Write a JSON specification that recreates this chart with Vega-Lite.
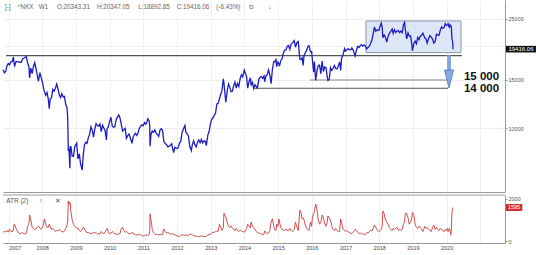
{
"$schema":"https://vega.github.io/schema/vega-lite/v6.json",
"padding":0,"spacing":2,"background":"white",
"config":{"view":{"stroke":null},"font":"Liberation Sans","axis":{"labelOverlap":false},"axisX":{"labelOverlap":false},"axisBottom":{"labelOverlap":false}},
"datasets":{
"w":[
{"d":"2006-11-03","c":16350,"a":420},{"d":"2006-11-17","c":15925,"a":450},{"d":"2006-12-01","c":16100,"a":430},{"d":"2006-12-15","c":16900,"a":500},{"d":"2006-12-29","c":17225,"a":420},
{"d":"2007-01-12","c":17040,"a":560},{"d":"2007-01-26","c":17460,"a":480},{"d":"2007-02-09","c":17500,"a":430},{"d":"2007-02-23","c":18190,"a":520},{"d":"2007-03-02","c":17220,"a":800},{"d":"2007-03-09","c":16900,"a":780},{"d":"2007-03-23","c":17480,"a":600},{"d":"2007-04-06","c":17490,"a":480},{"d":"2007-04-20","c":17450,"a":380},{"d":"2007-05-04","c":17400,"a":340},{"d":"2007-05-18","c":17400,"a":380},{"d":"2007-06-01","c":17880,"a":400},{"d":"2007-06-15","c":18000,"a":350},{"d":"2007-06-29","c":18140,"a":330},{"d":"2007-07-13","c":18240,"a":380},{"d":"2007-07-27","c":17280,"a":700},{"d":"2007-08-10","c":16760,"a":800},{"d":"2007-08-17","c":15270,"a":1240},{"d":"2007-08-31","c":16570,"a":1000},{"d":"2007-09-14","c":15820,"a":650},{"d":"2007-09-28","c":16790,"a":600},{"d":"2007-10-12","c":17330,"a":520},{"d":"2007-10-26","c":16500,"a":600},{"d":"2007-11-09","c":15580,"a":650},{"d":"2007-11-21","c":14840,"a":700},{"d":"2007-12-07","c":15950,"a":620},{"d":"2007-12-21","c":15300,"a":560},
{"d":"2008-01-04","c":14690,"a":650},{"d":"2008-01-18","c":13860,"a":900},{"d":"2008-01-25","c":13630,"a":1050},{"d":"2008-02-08","c":13200,"a":800},{"d":"2008-02-22","c":13500,"a":650},{"d":"2008-03-07","c":12780,"a":650},{"d":"2008-03-17","c":11790,"a":800},{"d":"2008-03-28","c":12820,"a":700},{"d":"2008-04-11","c":12930,"a":550},{"d":"2008-04-25","c":13860,"a":600},{"d":"2008-05-09","c":13650,"a":520},{"d":"2008-05-23","c":13990,"a":450},{"d":"2008-06-06","c":14490,"a":500},{"d":"2008-06-20","c":13940,"a":480},{"d":"2008-07-04","c":13240,"a":550},{"d":"2008-07-18","c":12950,"a":500},{"d":"2008-08-01","c":13380,"a":450},{"d":"2008-08-15","c":13020,"a":430},{"d":"2008-08-29","c":13070,"a":480},{"d":"2008-09-12","c":12210,"a":600},{"d":"2008-09-26","c":11890,"a":750},{"d":"2008-10-03","c":11000,"a":900},{"d":"2008-10-10","c":8276,"a":1900},{"d":"2008-10-17","c":8460,"a":1750},{"d":"2008-10-27","c":7162,"a":1850},{"d":"2008-10-31","c":8577,"a":1800},{"d":"2008-11-07","c":8580,"a":1400},{"d":"2008-11-21","c":7910,"a":1000},{"d":"2008-12-05","c":7920,"a":800},{"d":"2008-12-19","c":8590,"a":700},
{"d":"2009-01-09","c":8840,"a":600},{"d":"2009-01-23","c":7745,"a":620},{"d":"2009-02-06","c":8080,"a":500},{"d":"2009-02-20","c":7416,"a":450},{"d":"2009-03-10","c":7055,"a":550},{"d":"2009-03-20","c":7945,"a":650},{"d":"2009-04-03","c":8720,"a":600},{"d":"2009-04-17","c":8910,"a":450},{"d":"2009-05-01","c":8830,"a":400},{"d":"2009-05-15","c":9260,"a":420},{"d":"2009-05-29","c":9520,"a":350},{"d":"2009-06-12","c":10135,"a":380},{"d":"2009-06-26","c":9880,"a":350},{"d":"2009-07-10","c":9290,"a":420},{"d":"2009-07-24","c":9940,"a":400},{"d":"2009-08-07","c":10410,"a":380},{"d":"2009-08-21","c":10240,"a":330},{"d":"2009-09-04","c":10190,"a":360},{"d":"2009-09-18","c":10370,"a":320},{"d":"2009-10-02","c":9730,"a":450},{"d":"2009-10-16","c":10260,"a":380},{"d":"2009-10-30","c":10030,"a":350},{"d":"2009-11-13","c":9800,"a":400},{"d":"2009-11-27","c":9080,"a":550},{"d":"2009-12-04","c":9980,"a":600},{"d":"2009-12-18","c":10140,"a":420},{"d":"2009-12-30","c":10550,"a":350},
{"d":"2010-01-15","c":10980,"a":380},{"d":"2010-01-29","c":10200,"a":450},{"d":"2010-02-12","c":10090,"a":400},{"d":"2010-02-26","c":10130,"a":330},{"d":"2010-03-12","c":10750,"a":350},{"d":"2010-03-26","c":10990,"a":300},{"d":"2010-04-09","c":11200,"a":330},{"d":"2010-04-23","c":10910,"a":350},{"d":"2010-05-07","c":10360,"a":600},{"d":"2010-05-21","c":9780,"a":650},{"d":"2010-06-04","c":9900,"a":500},{"d":"2010-06-18","c":10000,"a":420},{"d":"2010-07-02","c":9200,"a":450},{"d":"2010-07-16","c":9410,"a":400},{"d":"2010-07-30","c":9540,"a":330},{"d":"2010-08-13","c":9250,"a":350},{"d":"2010-08-31","c":8824,"a":400},{"d":"2010-09-10","c":9240,"a":380},{"d":"2010-09-24","c":9470,"a":330},{"d":"2010-10-08","c":9590,"a":300},{"d":"2010-10-22","c":9430,"a":280},{"d":"2010-11-05","c":9625,"a":300},{"d":"2010-11-19","c":10020,"a":320},{"d":"2010-12-03","c":10180,"a":300},{"d":"2010-12-17","c":10300,"a":250},{"d":"2010-12-30","c":10230,"a":230},
{"d":"2011-01-14","c":10500,"a":250},{"d":"2011-01-28","c":10360,"a":280},{"d":"2011-02-11","c":10600,"a":280},{"d":"2011-02-18","c":10840,"a":260},{"d":"2011-03-04","c":10690,"a":300},{"d":"2011-03-11","c":10250,"a":450},{"d":"2011-03-15","c":8605,"a":1290},{"d":"2011-03-25","c":9540,"a":1000},{"d":"2011-04-08","c":9770,"a":550},{"d":"2011-04-22","c":9680,"a":380},{"d":"2011-05-06","c":9860,"a":330},{"d":"2011-05-20","c":9600,"a":320},{"d":"2011-06-03","c":9490,"a":300},{"d":"2011-06-17","c":9350,"a":280},{"d":"2011-07-01","c":9870,"a":330},{"d":"2011-07-15","c":9970,"a":300},{"d":"2011-07-29","c":9830,"a":300},{"d":"2011-08-05","c":9300,"a":500},{"d":"2011-08-12","c":8960,"a":570},{"d":"2011-08-26","c":8800,"a":450},{"d":"2011-09-09","c":8740,"a":380},{"d":"2011-09-23","c":8560,"a":400},{"d":"2011-10-07","c":8600,"a":380},{"d":"2011-10-21","c":8680,"a":320},{"d":"2011-11-04","c":8800,"a":350},{"d":"2011-11-18","c":8370,"a":340},{"d":"2011-11-25","c":8160,"a":300},{"d":"2011-12-09","c":8540,"a":300},{"d":"2011-12-30","c":8455,"a":250},
{"d":"2012-01-13","c":8500,"a":220},{"d":"2012-01-27","c":8840,"a":230},{"d":"2012-02-10","c":8950,"a":240},{"d":"2012-02-24","c":9650,"a":300},{"d":"2012-03-09","c":9930,"a":280},{"d":"2012-03-27","c":10255,"a":260},{"d":"2012-04-06","c":9690,"a":300},{"d":"2012-04-20","c":9560,"a":270},{"d":"2012-05-04","c":9380,"a":260},{"d":"2012-05-18","c":8610,"a":330},{"d":"2012-06-04","c":8295,"a":320},{"d":"2012-06-15","c":8720,"a":300},{"d":"2012-06-29","c":9007,"a":260},{"d":"2012-07-13","c":8725,"a":240},{"d":"2012-07-27","c":8570,"a":220},{"d":"2012-08-10","c":8890,"a":230},{"d":"2012-08-24","c":9070,"a":200},{"d":"2012-09-07","c":8870,"a":220},{"d":"2012-09-21","c":9110,"a":250},{"d":"2012-10-05","c":8860,"a":230},{"d":"2012-10-19","c":9000,"a":200},{"d":"2012-11-02","c":8990,"a":210},{"d":"2012-11-14","c":8660,"a":220},{"d":"2012-11-30","c":9450,"a":300},{"d":"2012-12-14","c":9740,"a":300},{"d":"2012-12-28","c":10395,"a":330},
{"d":"2013-01-11","c":10800,"a":380},{"d":"2013-01-25","c":10930,"a":400},{"d":"2013-02-08","c":11150,"a":420},{"d":"2013-02-22","c":11390,"a":450},{"d":"2013-03-08","c":12280,"a":480},{"d":"2013-03-22","c":12340,"a":450},{"d":"2013-04-05","c":12830,"a":790},{"d":"2013-04-19","c":13320,"a":650},{"d":"2013-05-02","c":13690,"a":500},{"d":"2013-05-17","c":15140,"a":650},{"d":"2013-05-24","c":14610,"a":1330},{"d":"2013-05-31","c":13770,"a":1250},{"d":"2013-06-13","c":12445,"a":1150},{"d":"2013-06-28","c":13680,"a":900},{"d":"2013-07-12","c":14500,"a":700},{"d":"2013-07-26","c":14130,"a":650},{"d":"2013-08-09","c":13600,"a":720},{"d":"2013-08-23","c":13660,"a":600},{"d":"2013-09-06","c":14310,"a":550},{"d":"2013-09-20","c":14740,"a":500},{"d":"2013-10-04","c":14020,"a":600},{"d":"2013-10-18","c":14560,"a":500},{"d":"2013-11-01","c":14200,"a":450},{"d":"2013-11-15","c":15165,"a":520},{"d":"2013-11-29","c":15660,"a":480},{"d":"2013-12-13","c":15400,"a":450},{"d":"2013-12-30","c":16290,"a":420},
{"d":"2014-01-10","c":15910,"a":480},{"d":"2014-01-24","c":15390,"a":600},{"d":"2014-02-05","c":14010,"a":800},{"d":"2014-02-21","c":14870,"a":700},{"d":"2014-03-07","c":15270,"a":620},{"d":"2014-03-14","c":14330,"a":900},{"d":"2014-03-28","c":14700,"a":700},{"d":"2014-04-11","c":13960,"a":650},{"d":"2014-04-25","c":14430,"a":550},{"d":"2014-05-09","c":14200,"a":450},{"d":"2014-05-21","c":14040,"a":400},{"d":"2014-06-06","c":15080,"a":380},{"d":"2014-06-20","c":15350,"a":350},{"d":"2014-07-04","c":15440,"a":330},{"d":"2014-07-18","c":15210,"a":300},{"d":"2014-08-01","c":15520,"a":330},{"d":"2014-08-08","c":14780,"a":480},{"d":"2014-08-22","c":15540,"a":400},{"d":"2014-09-05","c":15670,"a":350},{"d":"2014-09-19","c":16320,"a":380},{"d":"2014-10-03","c":15700,"a":500},{"d":"2014-10-17","c":14530,"a":900},{"d":"2014-10-31","c":16410,"a":1060},{"d":"2014-11-14","c":17490,"a":700},{"d":"2014-11-28","c":17460,"a":550},{"d":"2014-12-08","c":17940,"a":500},{"d":"2014-12-16","c":16760,"a":800},{"d":"2014-12-30","c":17450,"a":700},
{"d":"2015-01-09","c":17200,"a":1050},{"d":"2015-01-16","c":16860,"a":900},{"d":"2015-01-30","c":17670,"a":650},{"d":"2015-02-13","c":17910,"a":550},{"d":"2015-02-27","c":18800,"a":500},{"d":"2015-03-13","c":19250,"a":520},{"d":"2015-03-27","c":19290,"a":560},{"d":"2015-04-10","c":19900,"a":520},{"d":"2015-04-24","c":20020,"a":500},{"d":"2015-05-08","c":19380,"a":600},{"d":"2015-05-22","c":20260,"a":500},{"d":"2015-06-05","c":20460,"a":450},{"d":"2015-06-24","c":20870,"a":550},{"d":"2015-07-08","c":19740,"a":900},{"d":"2015-07-24","c":20540,"a":650},{"d":"2015-08-07","c":20720,"a":500},{"d":"2015-08-25","c":17810,"a":1480},{"d":"2015-09-04","c":17790,"a":1400},{"d":"2015-09-18","c":18070,"a":1050},{"d":"2015-09-29","c":16930,"a":1100},{"d":"2015-10-09","c":18440,"a":1000},{"d":"2015-10-23","c":18830,"a":750},{"d":"2015-11-06","c":19260,"a":600},{"d":"2015-11-20","c":19880,"a":550},{"d":"2015-12-01","c":20010,"a":500},{"d":"2015-12-18","c":18990,"a":900},{"d":"2015-12-30","c":19030,"a":700},
{"d":"2016-01-08","c":17700,"a":1150},{"d":"2016-01-21","c":16020,"a":1300},{"d":"2016-01-29","c":17520,"a":1400},{"d":"2016-02-12","c":14950,"a":1760},{"d":"2016-02-26","c":16190,"a":1500},{"d":"2016-03-11","c":16940,"a":1000},{"d":"2016-03-25","c":17000,"a":800},{"d":"2016-04-08","c":15820,"a":900},{"d":"2016-04-22","c":17570,"a":1240},{"d":"2016-05-06","c":16110,"a":1100},{"d":"2016-05-20","c":16740,"a":800},{"d":"2016-06-03","c":16640,"a":700},{"d":"2016-06-16","c":15430,"a":900},{"d":"2016-06-24","c":14950,"a":1190},{"d":"2016-07-08","c":15110,"a":1100},{"d":"2016-07-22","c":16630,"a":1000},{"d":"2016-08-05","c":16250,"a":700},{"d":"2016-08-19","c":16550,"a":550},{"d":"2016-09-02","c":16930,"a":500},{"d":"2016-09-16","c":16520,"a":600},{"d":"2016-09-30","c":16450,"a":500},{"d":"2016-10-14","c":16850,"a":450},{"d":"2016-10-28","c":17440,"a":450},{"d":"2016-11-09","c":16250,"a":1050},{"d":"2016-11-18","c":17970,"a":900},{"d":"2016-12-02","c":18430,"a":600},{"d":"2016-12-21","c":19490,"a":500},{"d":"2016-12-30","c":19110,"a":450},
{"d":"2017-01-13","c":19290,"a":500},{"d":"2017-01-27","c":19470,"a":450},{"d":"2017-02-10","c":19380,"a":400},{"d":"2017-02-24","c":19280,"a":380},{"d":"2017-03-10","c":19600,"a":350},{"d":"2017-03-24","c":19260,"a":420},{"d":"2017-04-07","c":18660,"a":500},{"d":"2017-04-14","c":18340,"a":550},{"d":"2017-04-28","c":19200,"a":500},{"d":"2017-05-12","c":19880,"a":420},{"d":"2017-05-26","c":19690,"a":350},{"d":"2017-06-09","c":20010,"a":380},{"d":"2017-06-23","c":20130,"a":330},{"d":"2017-07-07","c":19930,"a":350},{"d":"2017-07-21","c":20100,"a":300},{"d":"2017-08-04","c":19950,"a":300},{"d":"2017-08-18","c":19470,"a":400},{"d":"2017-09-01","c":19690,"a":380},{"d":"2017-09-15","c":19910,"a":450},{"d":"2017-09-29","c":20360,"a":500},{"d":"2017-10-13","c":20950,"a":480},{"d":"2017-10-27","c":22010,"a":600},{"d":"2017-11-09","c":23380,"a":760},{"d":"2017-11-24","c":22550,"a":650},{"d":"2017-12-08","c":22810,"a":550},{"d":"2017-12-29","c":22760,"a":450},
{"d":"2018-01-12","c":23650,"a":500},{"d":"2018-01-23","c":24124,"a":550},{"d":"2018-02-02","c":23270,"a":700},{"d":"2018-02-09","c":21380,"a":1430},{"d":"2018-02-23","c":21890,"a":1300},{"d":"2018-03-09","c":21470,"a":1000},{"d":"2018-03-23","c":20617,"a":900},{"d":"2018-04-06","c":21570,"a":800},{"d":"2018-04-20","c":22160,"a":650},{"d":"2018-05-04","c":22470,"a":550},{"d":"2018-05-21","c":23000,"a":500},{"d":"2018-06-01","c":22170,"a":600},{"d":"2018-06-15","c":22850,"a":550},{"d":"2018-06-29","c":22300,"a":600},{"d":"2018-07-13","c":22600,"a":650},{"d":"2018-07-27","c":22710,"a":500},{"d":"2018-08-10","c":22300,"a":550},{"d":"2018-08-24","c":22600,"a":500},{"d":"2018-09-07","c":22300,"a":550},{"d":"2018-09-21","c":23870,"a":800},{"d":"2018-10-02","c":24270,"a":900},{"d":"2018-10-12","c":22690,"a":1330},{"d":"2018-10-26","c":21180,"a":1300},{"d":"2018-11-09","c":22250,"a":1100},{"d":"2018-11-22","c":21650,"a":800},{"d":"2018-12-07","c":21680,"a":900},{"d":"2018-12-21","c":20170,"a":1100},{"d":"2018-12-26","c":19155,"a":1360},
{"d":"2019-01-11","c":20360,"a":1250},{"d":"2019-01-25","c":20770,"a":800},{"d":"2019-02-08","c":20330,"a":650},{"d":"2019-02-22","c":21425,"a":600},{"d":"2019-03-08","c":21030,"a":700},{"d":"2019-03-22","c":21630,"a":650},{"d":"2019-04-05","c":21800,"a":550},{"d":"2019-04-19","c":22200,"a":450},{"d":"2019-05-10","c":21340,"a":700},{"d":"2019-05-24","c":21120,"a":600},{"d":"2019-06-04","c":20410,"a":650},{"d":"2019-06-21","c":21260,"a":550},{"d":"2019-07-05","c":21750,"a":500},{"d":"2019-07-19","c":21470,"a":450},{"d":"2019-08-02","c":21090,"a":650},{"d":"2019-08-16","c":20420,"a":750},{"d":"2019-08-30","c":20700,"a":550},{"d":"2019-09-13","c":21990,"a":650},{"d":"2019-09-27","c":21880,"a":550},{"d":"2019-10-11","c":21800,"a":500},{"d":"2019-10-25","c":22800,"a":600},{"d":"2019-11-08","c":23390,"a":550},{"d":"2019-11-22","c":23110,"a":500},{"d":"2019-12-06","c":23350,"a":450},{"d":"2019-12-17","c":24066,"a":550},{"d":"2019-12-30","c":23660,"a":500},
{"d":"2020-01-10","c":23850,"a":600},{"d":"2020-01-17","c":24040,"a":450},{"d":"2020-01-31","c":23200,"a":600},{"d":"2020-02-07","c":23830,"a":500},{"d":"2020-02-14","c":23690,"a":300},{"d":"2020-02-21","c":23390,"a":450},{"d":"2020-02-28","c":21140,"a":1350},{"d":"2020-03-06","c":20750,"a":1500},{"d":"2020-03-11","c":19416.06,"a":1595}
],
"levels":[
{"name":"top","v":18400,"d1":"2006-12-04","d2":"2020-06-16"},
{"name":"15000","v":15000,"d1":"2015-12-12","d2":"2020-01-16"},
{"name":"14000","v":14000,"d1":"2014-04-04","d2":"2020-01-16"}
],
"zone":[{"d1":"2017-08-10","d2":"2020-06-05","lo":18860,"hi":24585}],
"targets":[{"t":"15 000","v":15420},{"t":"14 000","v":13950}],
"last":[{"c":19416.06,"a":1595,"lc":"19416.06","la":"1595"}],
"one":[{}]
},
"vconcat":[
{
"width":502,"height":192,
"layer":[
{"data":{"name":"zone"},"mark":{"type":"rect","fill":"#dce6f6","stroke":"#8a96a8","strokeWidth":1},
 "encoding":{"x":{"field":"d1","type":"temporal"},"x2":{"field":"d2"},"y":{"field":"lo","type":"quantitative"},"y2":{"field":"hi"}}},
{"data":{"name":"levels"},"mark":{"type":"rule","strokeWidth":1.1},
 "encoding":{"x":{"field":"d1","type":"temporal"},"x2":{"field":"d2"},"y":{"field":"v","type":"quantitative"},
 "color":{"field":"name","type":"nominal","scale":{"domain":["top","15000","14000"],"range":["#555555","#888888","#555555"]},"legend":null}}},
{"data":{"name":"w"},"mark":{"type":"line","color":"#1c1cc4","strokeWidth":1.3},
 "encoding":{
  "x":{"field":"d","type":"temporal","scale":{"domain":[{"year":2006,"month":11,"date":2},{"year":2021,"month":9,"date":25}]},
   "axis":{"title":null,"labels":false,"ticks":false,"domain":true,"domainColor":"#999999","grid":true,"gridColor":"#f0f0f0","tickCount":{"interval":"year","step":1}}},
  "y":{"field":"c","type":"quantitative","scale":{"type":"log","domain":[5870,29310],"nice":false,"zero":false},
   "axis":{"orient":"right","title":null,"values":[10000,15000,20000,25000],"format":"d","labelExpr":"datum.value == 20000 ? '' : datum.label","grid":true,"gridColor":"#eeeeee","domainColor":"#999999","tickColor":"#999999","tickSize":2,"labelPadding":1,"labelFontSize":5.5,"labelColor":"#555555"}}}},
{"data":{"name":"one"},"mark":{"type":"rule","color":"#86a8e0","strokeWidth":4},
 "encoding":{"x":{"datum":{"year":2020,"month":1,"date":27},"type":"temporal"},"y":{"datum":18450,"type":"quantitative"},"y2":{"datum":15500}}},
{"data":{"name":"one"},"mark":{"type":"point","shape":"M-0.5,-1L0.5,-1L0,1Z","size":324,"filled":true,"fill":"#86a8e0","stroke":"#4f74b8","strokeWidth":0.8,"opacity":1},
 "encoding":{"x":{"datum":{"year":2020,"month":1,"date":27},"type":"temporal"},"y":{"datum":15125,"type":"quantitative"}}},
{"data":{"name":"targets"},"mark":{"type":"text","align":"left","baseline":"middle","fontSize":11.5,"fontWeight":"bold","color":"#111111"},
 "encoding":{"x":{"datum":{"year":2020,"month":7,"date":7},"type":"temporal"},"y":{"field":"v","type":"quantitative"},"text":{"field":"t"}}},
{"data":{"name":"one"},"mark":{"type":"text","align":"left","baseline":"middle","fontSize":6.3,"color":"#666666"},
 "encoding":{"x":{"datum":{"year":2006,"month":11,"date":24},"type":"temporal"},"y":{"datum":27640,"type":"quantitative"},
 "text":{"value":"[-]\u00a0\u00a0\u00a0\u00a0^NKX\u00a0\u00a0\u00a0W1\u00a0\u00a0\u00a0\u00a0\u00a0O:20343.31\u00a0\u00a0\u00a0\u00a0H:20347.05\u00a0\u00a0\u00a0\u00a0\u00a0L:18892.85\u00a0\u00a0\u00a0\u00a0C:19416.06\u00a0\u00a0\u00a0\u00a0(-6.43%)\u00a0\u00a0\u00a0\u00a0\u00a0\u29c9\u00a0\u00a0\u00a0\u00a0\u00a0\u00a0\u00a0\u00a0\u2193"}}},
{"data":{"name":"last"},"mark":{"type":"point","shape":"M-1,-0.22L1,-0.22L1,0.22L-1,0.22Z","size":900,"filled":true,"fill":"#111111","opacity":1},
 "encoding":{"x":{"datum":{"year":2022,"month":3,"date":17},"type":"temporal"},"y":{"field":"c","type":"quantitative"}}},
{"data":{"name":"last"},"mark":{"type":"text","align":"center","baseline":"middle","fontSize":6,"color":"white"},
 "encoding":{"x":{"datum":{"year":2022,"month":3,"date":17},"type":"temporal"},"y":{"field":"c","type":"quantitative"},"text":{"field":"lc"}}}
]
},
{
"width":502,"height":48,
"layer":[
{"data":{"name":"w"},"mark":{"type":"line","color":"#cc3a3a","strokeWidth":0.9},
 "encoding":{
  "x":{"field":"d","type":"temporal","scale":{"domain":[{"year":2006,"month":11,"date":2},{"year":2021,"month":9,"date":25}]},
   "axis":{"title":null,"format":"%Y","ticks":false,"labelPadding":2,"labelFontSize":5.5,"labelColor":"#444444","labelOverlap":false,"labelSeparation":0,"labelFlush":6,"domainColor":"#999999","grid":true,"gridColor":"#f0f0f0",
    "tickCount":{"interval":"year","step":1},"labelExpr":"year(datum.value) > 2020 ? '' : timeFormat(datum.value, '%Y')"}},
  "y":{"field":"a","type":"quantitative","scale":{"domain":[-95,2190],"nice":false,"zero":false},
   "axis":{"orient":"right","title":null,"values":[0,500,1000,2000],"format":"d","grid":false,"domainColor":"#999999","tickColor":"#999999","tickSize":2,"labelPadding":1,"labelFontSize":5.5,"labelColor":"#555555"}}}},
{"data":{"name":"one"},"mark":{"type":"rule","color":"#999999","strokeWidth":1},"encoding":{"y":{"datum":2190,"type":"quantitative"}}},
{"data":{"name":"one"},"mark":{"type":"text","align":"left","baseline":"middle","fontSize":6.5,"color":"#555555"},
 "encoding":{"x":{"datum":{"year":2006,"month":12,"date":6},"type":"temporal"},"y":{"datum":1905,"type":"quantitative"},
 "text":{"value":"ATR (2)\u00a0\u00a0\u00a0\u00a0\u00a0\u00a0\u2191\u00a0\u00a0\u00a0\u00a0\u00a0\u00a0\u00a0\u2715"}}},
{"data":{"name":"last"},"mark":{"type":"point","shape":"M-1,-0.42L1,-0.42L1,0.42L-1,0.42Z","size":272,"filled":true,"fill":"#d42a2a","opacity":1},
 "encoding":{"x":{"datum":{"year":2022,"month":1,"date":1},"type":"temporal"},"y":{"field":"a","type":"quantitative"}}},
{"data":{"name":"last"},"mark":{"type":"text","align":"center","baseline":"middle","fontSize":5.5,"color":"white"},
 "encoding":{"x":{"datum":{"year":2022,"month":1,"date":1},"type":"temporal"},"y":{"field":"a","type":"quantitative"},"text":{"field":"la"}}}
]
}
]
}
